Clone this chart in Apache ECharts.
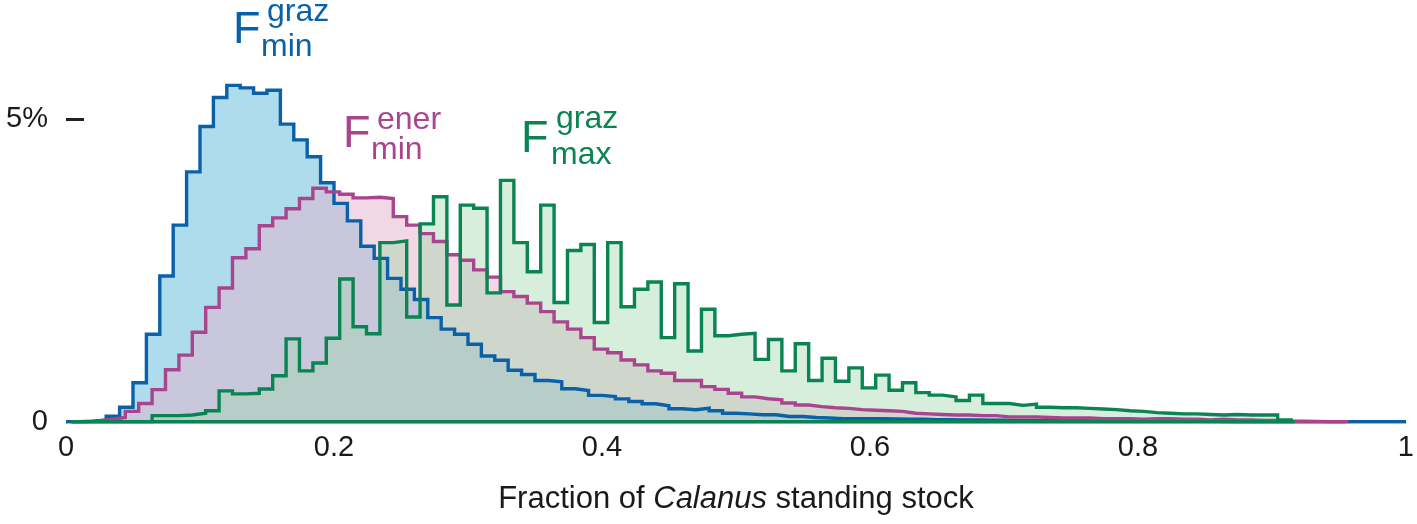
<!DOCTYPE html>
<html><head><meta charset="utf-8">
<script src="https://cdn.jsdelivr.net/npm/echarts@6/dist/echarts.min.js"></script>
<style>html,body{margin:0;padding:0;background:#fff}#c{width:1417px;height:524px}</style>
</head><body><div id="c"></div>
<script>
// ---- data (percent of runs per bin) ----
const binWidth = 0.01;
const blueStart = 0;        // F_min^graz bins start
const pinkStart = 0.00425;  // F_min^ener bins start
const greenStart = 0.00425; // F_max^graz bins start
const blueEnd = 1.0, pinkEnd = 0.957, greenEnd = 0.917;

const blueValues = [
 0,0.01,0.03,0.09,0.24,0.645,1.445,2.41,3.25,4.13,
 4.88,5.36,5.56,5.52,5.43,5.48,4.92,4.66,4.38,3.95,
 3.61,3.32,2.90,2.70,2.37,2.19,2.02,1.72,1.53,1.445,
 1.28,1.086,1.015,0.85,0.78,0.68,0.66,0.545,0.515,0.435,
 0.417,0.378,0.334,0.296,0.263,0.213,0.197,0.223,0.18,0.14,
 0.13,0.114,0.114,0.086,0.086,0.07,0.06,0.05,0.05,0.05,
 0.05,0.045,0.04,0.04,0.035,0.035,0.03,0.03,0.025,0.025,
 0.02,0.02,0.02,0.015,0.015,0.015,0.01,0.01,0.01,0.01,
 0.01,0.005,0.005,0.005,0.005,0.005,0,0,0,0,
 0,0,0,0,0,0,0,0,0,0
];
const pinkValues = [
 0,0.01,0.04,0.07,0.17,0.30,0.53,0.86,1.10,1.48,
 1.89,2.21,2.71,2.86,3.24,3.37,3.52,3.69,3.86,3.80,
 3.76,3.70,3.71,3.69,3.39,3.25,3.11,2.98,2.76,2.67,
 2.51,2.39,2.15,2.07,1.96,1.82,1.65,1.53,1.39,1.20,
 1.14,1.02,0.94,0.84,0.80,0.68,0.68,0.58,0.535,0.47,
 0.41,0.38,0.36,0.31,0.276,0.25,0.23,0.22,0.20,0.19,
 0.18,0.17,0.14,0.13,0.12,0.11,0.11,0.10,0.10,0.08,
 0.08,0.08,0.07,0.06,0.06,0.06,0.05,0.05,0.05,0.04,
 0.05,0.05,0.04,0.04,0.03,0.04,0.03,0.03,0.02,0.02,
 0.01,0.01,0.005,0,0
];
const greenValues = [
 0,0,0,0,0,0,0.10,0.10,0.11,0.14,
 0.18,0.51,0.46,0.47,0.54,0.76,1.37,0.84,0.97,1.38,
 2.36,1.57,1.455,2.96,2.99,1.73,3.27,3.72,1.93,3.58,
 3.53,2.13,3.99,2.96,2.48,3.58,1.97,2.83,2.93,1.64,
 2.96,1.90,2.19,2.31,1.39,2.28,1.17,1.86,1.42,1.445,
 1.46,1.03,1.36,0.84,1.29,0.68,1.05,0.67,0.89,0.56,
 0.77,0.52,0.645,0.48,0.44,0.41,0.35,0.44,0.30,0.30,
 0.27,0.29,0.24,0.23,0.23,0.22,0.21,0.20,0.18,0.17,
 0.15,0.14,0.13,0.13,0.12,0.11,0.12,0.11,0.11,0.11,
 0.03
];
const xTickValues = [0, 0.2, 0.4, 0.6, 0.8, 1];
const yLabelValues = [0, 5];
const yLabelText = {0: '0', 5: '5%'};
const xAxisTitle = 'Fraction of {i|Calanus} standing stock';

// ---- style ----
const FONT = '"Liberation Sans", Arial, Helvetica, sans-serif';
const C = {
  blue: '#0a61a8', blueFill: '#aedcec',
  pink: '#a8458e', pinkFill: 'rgba(227,178,202,0.5)',
  green: '#0a8452', greenFill: 'rgba(160,215,172,0.42)',
  text: '#1a1a1a'
};
const LW = 3.4;

function steps(start, vals) {
  const pts = vals.map((v, i) => [start + i * binWidth, v]);
  pts.push([start + vals.length * binWidth, 0]);
  return pts;
}
const blueData = steps(blueStart, blueValues);
const pinkData = steps(pinkStart, pinkValues);
const greenData = steps(greenStart, greenValues);

function area(data, color) {
  return { type: 'line', step: 'end', data, symbol: 'none', silent: true,
    lineStyle: { opacity: 0, width: 0 }, areaStyle: { color: color, opacity: 1 } };
}
function line(data, color) {
  return { type: 'line', step: 'end', data, symbol: 'none', silent: true,
    lineStyle: { color: color, width: LW, join: 'miter' } };
}
function baseline(start, end, color) {
  return { type: 'line', data: [[start, 0], [end, 0]], symbol: 'none', silent: true,
    lineStyle: { color: color, width: LW } };
}

const chart = echarts.init(document.getElementById('c'), null, { renderer: 'canvas' });
chart.setOption({
  animation: false,
  backgroundColor: '#fff',
  grid: { left: 66, right: 9, top: 58.8, bottom: 102.3, containLabel: false },
  xAxis: {
    type: 'value', min: 0, max: 1, interval: 0.2,
    axisLine: { show: false }, axisTick: { show: false }, splitLine: { show: false },
    axisLabel: { fontSize: 29, color: C.text, fontFamily: FONT, margin: 12,
      customValues: xTickValues },
    name: xAxisTitle, nameLocation: 'middle', nameGap: 62,
    nameTextStyle: { fontSize: 31, color: C.text, fontFamily: FONT,
      rich: { i: { fontSize: 31, fontStyle: 'italic', color: C.text, fontFamily: FONT } } }
  },
  yAxis: {
    type: 'value', min: 0, max: 6, interval: 5, offset: 4,
    axisLine: { show: false }, splitLine: { show: false },
    axisTick: { show: true, inside: true, length: 18, customValues: [5],
      lineStyle: { color: '#222', width: 3 } },
    axisLabel: { fontSize: 29, color: C.text, fontFamily: FONT, margin: 14,
      customValues: yLabelValues, formatter: v => (yLabelText[v] !== undefined ? yLabelText[v] : '') }
  },
  series: [
    area(blueData, C.blueFill),
    area(pinkData, C.pinkFill),
    area(greenData, C.greenFill),
    baseline(blueStart, blueEnd, C.blue),
    line(blueData, C.blue),
    baseline(pinkStart, pinkEnd, C.pink),
    line(pinkData, C.pink),
    baseline(greenStart, greenEnd, C.green),
    line(greenData, C.green)
  ],
  graphic: [
    { type: 'text', style: { text: 'F', x: 233, y: 31, fill: C.blue, font: '45px ' + FONT, verticalAlign: 'middle' } },
    { type: 'text', style: { text: 'graz', x: 267, y: 12, fill: C.blue, font: '32px ' + FONT, verticalAlign: 'middle' } },
    { type: 'text', style: { text: 'min', x: 261, y: 47, fill: C.blue, font: '32px ' + FONT, verticalAlign: 'middle' } },
    { type: 'text', style: { text: 'F', x: 343, y: 134.5, fill: C.pink, font: '45px ' + FONT, verticalAlign: 'middle' } },
    { type: 'text', style: { text: 'ener', x: 377, y: 120, fill: C.pink, font: '32px ' + FONT, verticalAlign: 'middle' } },
    { type: 'text', style: { text: 'min', x: 371, y: 150, fill: C.pink, font: '32px ' + FONT, verticalAlign: 'middle' } },
    { type: 'text', style: { text: 'F', x: 521, y: 139.5, fill: C.green, font: '45px ' + FONT, verticalAlign: 'middle' } },
    { type: 'text', style: { text: 'graz', x: 556, y: 119, fill: C.green, font: '32px ' + FONT, verticalAlign: 'middle' } },
    { type: 'text', style: { text: 'max', x: 551, y: 155, fill: C.green, font: '32px ' + FONT, verticalAlign: 'middle' } }
  ]
});
</script>
</body></html>
